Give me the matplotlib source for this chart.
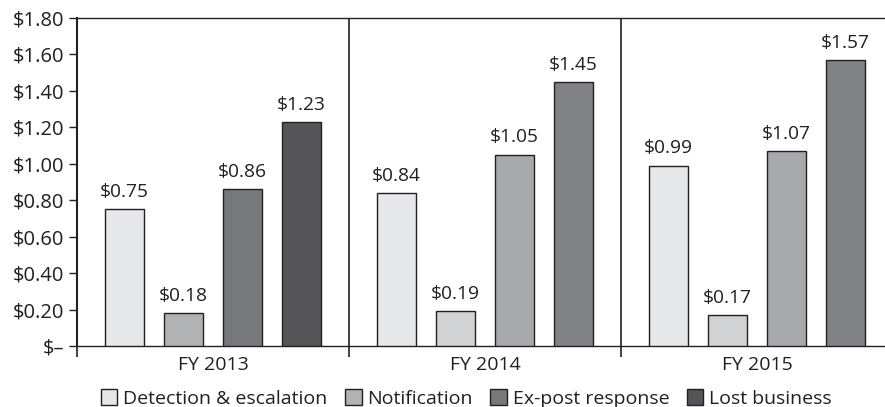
import numpy as np
import matplotlib.pyplot as plt

plt.rcParams['font.family'] = ['Open Sans', 'DejaVu Sans']

years = ['FY 2013', 'FY 2014', 'FY 2015']
series = ['Detection & escalation', 'Notification', 'Ex-post response', 'Lost business']
detection = [0.75, 0.84, 0.99]
notification = [0.18, 0.19, 0.17]
ex_post = [0.86, 1.05, 1.07]
lost_business = [1.23, 1.45, 1.57]
yticks = [0, 0.2, 0.4, 0.6, 0.8, 1.0, 1.2, 1.4, 1.6, 1.8]
ytick_labels = ['$–', '$0.20', '$0.40', '$0.60', '$0.80', '$1.00', '$1.20', '$1.40', '$1.60', '$1.80']

values = [detection, notification, ex_post, lost_business]
# shades per year group (first year printed darker than the rest)
shades_2013 = ['#e6e7e8', '#b1b2b4', '#77787b', '#555557']
shades_later = ['#e6e7e8', '#d1d2d4', '#a7a9ac', '#808285']
ink = '#231f20'

fig = plt.figure(figsize=(8.85, 4.07), dpi=100)
ax = fig.add_axes([77 / 885, 1 - 346 / 407, 1 - 77 / 885, (346 - 18) / 407])

x = np.arange(len(years))
step = 0.217
width = 0.143
for s in range(len(series)):
    pos = x + (s - 1.5) * step
    cols = [shades_2013[s] if i == 0 else shades_later[s] for i in range(len(years))]
    ax.bar(pos, values[s], width, color=cols, edgecolor=ink, linewidth=1.0, zorder=3)
    for p, v in zip(pos, values[s]):
        ax.text(p, v + 0.045, f'${v:.2f}', ha='center', va='bottom', fontsize=13.8, color=ink)

for sep in [0.5, 1.5]:
    ax.axvline(sep, color=ink, linewidth=1.2, zorder=2)

ax.set_xlim(-0.5, -0.5 + 808 / 272)
ax.set_ylim(0, 1.8)
ax.set_yticks(yticks)
ax.set_yticklabels(ytick_labels, fontsize=14.5, color=ink)
ax.set_xticks([-0.5, 0.5, 1.5])
ax.set_xticklabels([])
ax.set_xticks(x, minor=True)
ax.set_xticklabels(years, minor=True, fontsize=14, color=ink)
ax.tick_params(axis='x', which='minor', length=0, pad=7)
ax.tick_params(axis='x', which='major', length=8, width=1.2, color=ink, direction='out')
ax.tick_params(axis='y', length=6, width=1.0, color=ink, pad=3)

for side in ['left', 'top', 'bottom']:
    ax.spines[side].set_color(ink)
ax.spines['left'].set_linewidth(1.5)
ax.spines['top'].set_linewidth(1.0)
ax.spines['bottom'].set_linewidth(1.0)
ax.spines['right'].set_visible(False)

handles = [plt.Rectangle((0, 0), 1, 1, facecolor=c, edgecolor=ink, linewidth=1.0) for c in shades_2013]
fig.legend(handles, series, loc='lower center', bbox_to_anchor=(0.527, -0.045), ncol=4, frameon=False,
           fontsize=14, handlelength=0.85, handleheight=0.85, handletextpad=0.3, columnspacing=0.9,
           labelcolor=ink)

fig.savefig('out.png', dpi=100)
